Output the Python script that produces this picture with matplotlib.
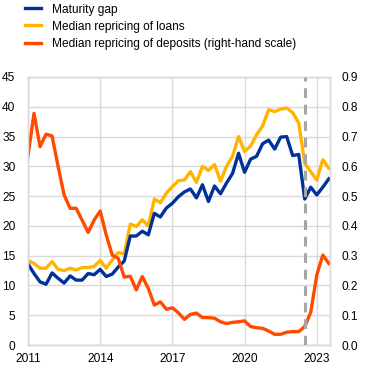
import numpy as np
import pandas as pd
import matplotlib
matplotlib.use("Agg")
import matplotlib.pyplot as plt

plt.rcParams['font.family'] = ['Liberation Sans', 'DejaVu Sans']

# quarterly observations, 2011Q1 - 2023Q3
quarters = pd.period_range("2011Q1", "2023Q3", freq="Q")

maturity_gap = [13.6, 12.0, 10.6, 10.2, 12.1, 11.2, 10.4, 11.6, 10.9, 10.9,
                12.0, 11.8, 12.7, 11.5, 11.9, 13.1, 14.1, 18.3, 18.3, 19.1,
                18.5, 22.1, 21.5, 23.0, 23.8, 24.9, 25.7, 26.2, 24.7, 26.9,
                24.1, 26.7, 25.4, 27.2, 28.8, 32.2, 29.0, 31.2, 31.7, 33.8,
                34.4, 32.9, 34.9, 35.0, 31.8, 32.0, 24.5, 26.5, 25.2, 26.5,
                27.9]

loans_repricing = [14.2, 13.7, 12.9, 12.9, 14.0, 12.7, 12.5, 12.9, 12.6, 13.0,
                   13.0, 13.2, 14.2, 12.9, 14.3, 15.5, 15.3, 20.3, 19.9, 21.0,
                   20.0, 24.5, 23.9, 25.5, 26.6, 27.6, 27.7, 29.1, 27.3, 30.0,
                   29.3, 30.3, 27.5, 30.0, 31.7, 35.0, 32.5, 33.4, 35.3, 36.8,
                   39.5, 39.2, 39.6, 39.8, 39.0, 37.3, 30.5, 29.1, 27.7, 31.1,
                   29.7]

deposits_repricing = [0.635, 0.778, 0.666, 0.708, 0.702, 0.600, 0.504, 0.459, 0.459, 0.419,
                      0.378, 0.420, 0.450, 0.370, 0.302, 0.291, 0.228, 0.231, 0.185, 0.230,
                      0.190, 0.134, 0.145, 0.120, 0.125, 0.108, 0.086, 0.103, 0.107, 0.092,
                      0.092, 0.090, 0.078, 0.072, 0.076, 0.078, 0.081, 0.062, 0.058, 0.056,
                      0.047, 0.036, 0.036, 0.043, 0.045, 0.045, 0.062, 0.110, 0.235, 0.302,
                      0.274]

break_quarter = "2022Q3"

x = quarters.year + (quarters.quarter - 1) / 4
x_break = pd.Period(break_quarter, freq="Q")
x_break = x_break.year + (x_break.quarter - 1) / 4

blue = '#003299'
yellow = '#ffb400'
orange = '#ff4b00'
grid_col = '#d9d9d9'

fig = plt.figure(figsize=(3.72, 3.73), dpi=100)
ax = fig.add_axes([28 / 372, 1 - 345 / 373, (330 - 28) / 372, (345 - 77) / 373])
ax2 = ax.twinx()

ax.plot(x, maturity_gap, color=blue, lw=2.4, label='Maturity gap', zorder=3)
ax.plot(x, loans_repricing, color=yellow, lw=2.4, label='Median repricing of loans', zorder=2)
ax2.plot(x, deposits_repricing, color=orange, lw=2.4,
         label='Median repricing of deposits (right-hand scale)')
ax2.axvline(x_break, color='#a6a6a6', lw=2.2, ls=(0, (3.2, 2.2)), zorder=5)

ax.set_xlim(2011, 2023.55)
ax.set_ylim(0, 45)
ax2.set_ylim(0, 0.9)
ax.set_yticks(np.arange(0, 46, 5))
ax2.set_yticks(np.arange(0, 0.91, 0.1))
ax2.set_yticklabels([f"{v:.1f}" for v in np.arange(0, 0.91, 0.1)])
ax.set_xticks([2011, 2014, 2017, 2020, 2023])
ax.set_xticklabels(['2011', '2014', '2017', '2020', '2023'])

ax.grid(True, color=grid_col, lw=1.0)
ax.set_axisbelow(True)
for a in (ax, ax2):
    for s in a.spines.values():
        s.set_color(grid_col)
        s.set_linewidth(1.0)
    a.tick_params(length=0, labelsize=8.6, colors='#000000')
ax.tick_params(axis='y', pad=9)
ax2.tick_params(axis='y', pad=8)
ax.tick_params(axis='x', pad=6)

h1, l1 = ax.get_legend_handles_labels()
h2, l2 = ax2.get_legend_handles_labels()
fig.legend(h1 + h2, l1 + l2, loc='upper left', bbox_to_anchor=(0.055, 1.003),
           frameon=False, fontsize=8.6, handlelength=1.3, handletextpad=0.9,
           labelspacing=0.42, borderaxespad=0)

fig.savefig('out.png', dpi=100)
